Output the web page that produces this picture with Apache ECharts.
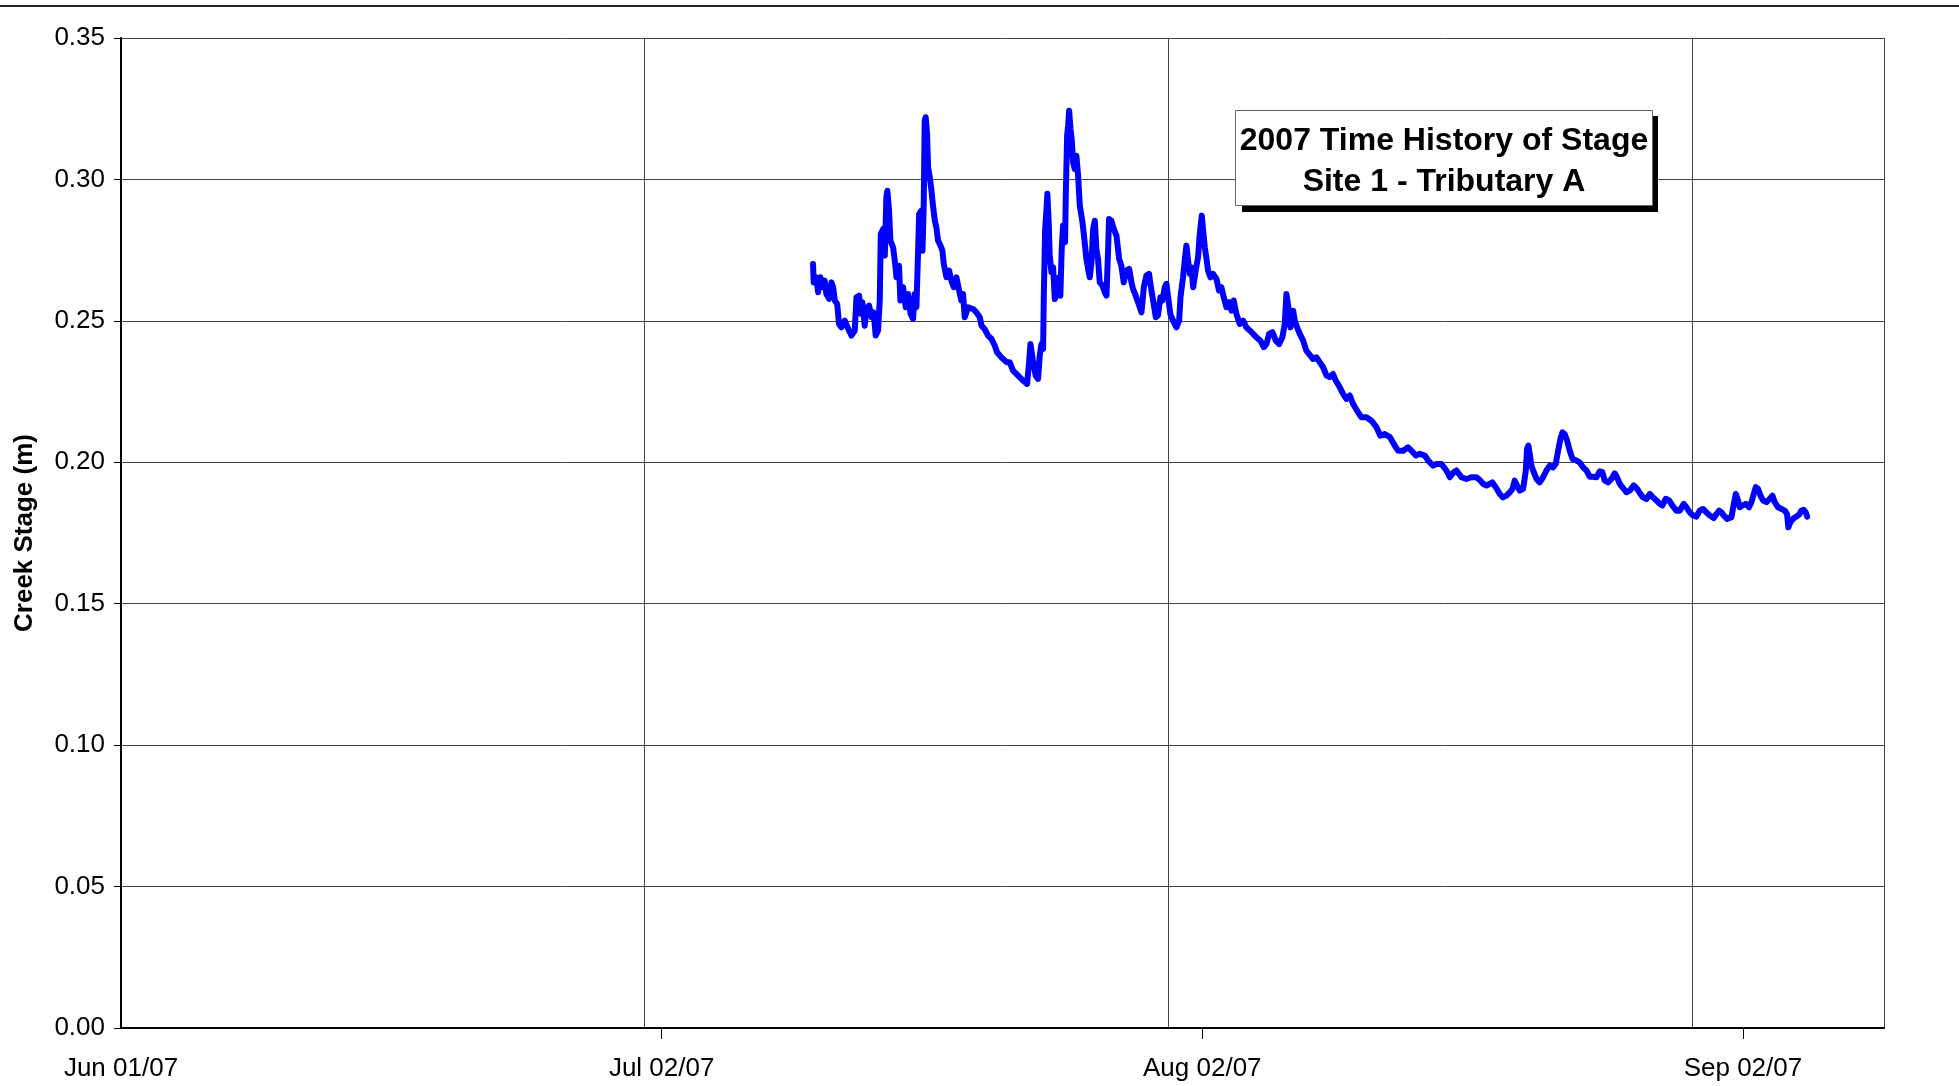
<!DOCTYPE html>
<html>
<head>
<meta charset="utf-8">
<title>2007 Time History of Stage</title>
<script src="https://cdn.jsdelivr.net/npm/echarts@6.0.0/dist/echarts.min.js"></script>
<style>
html, body { margin: 0; padding: 0; background: #fff; }
#chart { width: 1959px; height: 1086px; }
</style>
</head>
<body>
<div id="chart"></div>
<script>
// x values are days after Jun 01/07, y values are creek stage in metres
var days = [
    40.96, 41.00, 41.16, 41.26, 41.40, 41.52, 41.65, 41.75, 41.91, 42.05,
    42.15, 42.25, 42.39, 42.50, 42.64, 42.84, 43.04, 43.23, 43.43, 43.53,
    43.69, 43.79, 43.88, 44.02, 44.12, 44.28, 44.42, 44.55, 44.67, 44.81,
    44.91, 44.97, 45.11, 45.21, 45.30, 45.36, 45.46, 45.54, 45.70, 45.80,
    45.90, 46.05, 46.13, 46.29, 46.45, 46.59, 46.73, 46.88, 46.98, 47.08,
    47.18, 47.24, 47.38, 47.44, 47.51, 47.57, 47.63, 47.71, 47.77, 47.87,
    47.97, 48.07, 48.17, 48.26, 48.36, 48.46, 48.62, 48.70, 48.86, 49.01,
    49.15, 49.29, 49.45, 49.61, 49.74, 49.84, 49.94, 50.14,
    50.43, 50.63, 50.83, 50.93, 51.12, 51.32, 51.52, 51.72, 51.85, 52.11,
    52.41, 52.60, 52.80, 53.10, 53.39, 53.63, 53.75, 53.83, 53.99, 54.14,
    54.28, 54.38, 54.48, 54.58, 54.62, 54.70, 54.78, 54.83, 54.91, 54.97,
    55.07, 55.17, 55.27, 55.41, 55.52, 55.60, 55.68, 55.76, 55.88, 55.92,
    56.00, 56.06, 56.12, 56.20, 56.27, 56.35, 56.45, 56.55, 56.65, 56.75,
    56.91, 57.04, 57.14, 57.24, 57.34, 57.44, 57.54, 57.64, 57.73, 57.83,
    57.93, 58.09, 58.23, 58.33, 58.42, 58.48, 58.62, 58.76, 58.92, 59.08,
    59.21, 59.35, 59.51, 59.67, 59.81, 59.90, 60.06, 60.20,
    60.30, 60.40, 60.54, 60.69, 60.85, 60.99, 61.09, 61.25, 61.38, 61.52,
    61.64, 61.78, 61.88, 61.98, 62.11, 62.27, 62.47, 62.63, 62.71, 62.86,
    62.96, 63.06, 63.16, 63.26, 63.36, 63.46, 63.61, 63.75, 63.85, 63.97,
    64.05, 64.15, 64.25, 64.34, 64.48, 64.64, 64.84, 64.99, 65.13, 65.27,
    65.43, 65.59, 65.73, 65.86, 66.02, 66.22, 66.42, 66.61, 66.81, 67.01,
    67.20, 67.44, 67.64, 67.80, 67.95, 68.15, 68.35, 68.55, 68.74, 68.88,
    68.98, 69.10, 69.22, 69.38, 69.47, 69.61, 69.77, 69.97, 70.16,
    70.56, 70.76, 70.95, 71.15, 71.35, 71.54, 71.74, 71.90, 72.14, 72.33,
    72.53, 72.73, 72.93, 73.22, 73.42, 73.72, 74.01, 74.31, 74.54, 74.80,
    75.10, 75.39, 75.59, 75.89, 76.18, 76.38, 76.64, 76.87, 77.17, 77.37,
    77.66, 77.86, 78.15, 78.45, 78.65, 78.88, 79.04, 79.34, 79.63, 79.93,
    80.23,
    80.42, 80.62, 80.82, 81.02, 81.17, 81.37, 81.61, 81.80, 82.00, 82.20,
    82.36, 82.49, 82.63, 82.79, 82.99, 83.15, 83.22, 83.30, 83.38, 83.48,
    83.62, 83.78, 83.97, 84.17, 84.37, 84.57, 84.76, 84.92, 85.06, 85.20,
    85.32, 85.45, 85.59, 85.75, 85.91, 86.15, 86.34, 86.54, 86.74, 86.93,
    87.13, 87.33, 87.53, 87.68, 87.82, 88.02, 88.22, 88.41, 88.55, 88.71,
    88.91, 89.10, 89.30, 89.54, 89.74, 89.93, 90.09, 90.29,
    90.49, 90.68, 90.88, 91.08, 91.23, 91.43, 91.63, 91.83, 92.06, 92.26,
    92.50, 92.66, 92.85, 93.05, 93.25, 93.44, 93.64, 93.84, 94.04, 94.27,
    94.43, 94.59, 94.73, 94.86, 95.06, 95.32, 95.46, 95.58, 95.71, 95.81,
    95.97, 96.17, 96.36, 96.50, 96.64, 96.76, 96.90, 97.04, 97.19, 97.39,
    97.59, 97.75, 97.88, 98.08, 98.28, 98.48, 98.61, 98.69, 98.81, 98.97,
    99.17, 99.32, 99.46, 99.60, 99.72, 99.80
];
var stage = [
    0.2701, 0.2636, 0.2654, 0.2601, 0.2654, 0.2619, 0.2642, 0.2595, 0.2578, 0.2636,
    0.2619, 0.2572, 0.2560, 0.2489, 0.2477, 0.2501, 0.2472, 0.2448, 0.2466, 0.2583,
    0.2589, 0.2525, 0.2566, 0.2483, 0.2542, 0.2554, 0.2513, 0.2530, 0.2448, 0.2466,
    0.2572, 0.2807, 0.2825, 0.2731, 0.2937, 0.2960, 0.2890, 0.2784, 0.2760, 0.2713,
    0.2654, 0.2695, 0.2572, 0.2619, 0.2548, 0.2595, 0.2525, 0.2507, 0.2595, 0.2548,
    0.2748, 0.2878, 0.2890, 0.2748, 0.2902, 0.3208, 0.3220, 0.3161, 0.3043, 0.3008,
    0.2960, 0.2902, 0.2854, 0.2831, 0.2784, 0.2772, 0.2748, 0.2701, 0.2654, 0.2678,
    0.2642, 0.2619, 0.2654, 0.2607, 0.2572, 0.2595, 0.2513, 0.2548,
    0.2542, 0.2530, 0.2513, 0.2483, 0.2471, 0.2448, 0.2436, 0.2412, 0.2389, 0.2371,
    0.2354, 0.2354, 0.2324, 0.2306, 0.2289, 0.2277, 0.2354, 0.2418, 0.2354, 0.2306,
    0.2295, 0.2377, 0.2418, 0.2401, 0.2589, 0.2825, 0.2896, 0.2949, 0.2848, 0.2731,
    0.2672, 0.2689, 0.2577, 0.2601, 0.2654, 0.2589, 0.2754, 0.2837, 0.2778, 0.2943,
    0.3155, 0.3190, 0.3243, 0.3178, 0.3143, 0.3061, 0.3037, 0.3084, 0.3013, 0.2907,
    0.2848, 0.2778, 0.2719, 0.2684, 0.2654, 0.2707, 0.2825, 0.2854, 0.2754, 0.2719,
    0.2636, 0.2625, 0.2601, 0.2589, 0.2742, 0.2860, 0.2854, 0.2825, 0.2801, 0.2719,
    0.2695, 0.2636, 0.2678, 0.2684, 0.2636, 0.2613, 0.2589, 0.2566,
    0.2560, 0.2530, 0.2619, 0.2660, 0.2666, 0.2607, 0.2572, 0.2513, 0.2519, 0.2583,
    0.2572, 0.2619, 0.2631, 0.2583, 0.2524, 0.2501, 0.2477, 0.2501, 0.2583, 0.2654,
    0.2713, 0.2766, 0.2713, 0.2666, 0.2689, 0.2619, 0.2678, 0.2725, 0.2807, 0.2872,
    0.2819, 0.2760, 0.2719, 0.2678, 0.2654, 0.2666, 0.2648, 0.2607, 0.2619, 0.2583,
    0.2548, 0.2566, 0.2536, 0.2572, 0.2524, 0.2489, 0.2501, 0.2477, 0.2466, 0.2454,
    0.2442, 0.2430, 0.2407, 0.2418, 0.2454, 0.2460, 0.2430, 0.2418, 0.2442, 0.2489,
    0.2595, 0.2548, 0.2477, 0.2536, 0.2501, 0.2477, 0.2454, 0.2430, 0.2395,
    0.2365, 0.2371, 0.2354, 0.2336, 0.2307, 0.2301, 0.2312, 0.2289, 0.2265, 0.2242,
    0.2224, 0.2236, 0.2206, 0.2177, 0.2159, 0.2159, 0.2147, 0.2124, 0.2094, 0.2100,
    0.2089, 0.2059, 0.2041, 0.2041, 0.2053, 0.2041, 0.2024, 0.2030, 0.2024, 0.2006,
    0.1988, 0.1994, 0.1994, 0.1971, 0.1947, 0.1965, 0.1971, 0.1947, 0.1941, 0.1947,
    0.1947,
    0.1938, 0.1924, 0.1918, 0.1924, 0.1929, 0.1912, 0.1888, 0.1876, 0.1882, 0.1894,
    0.1906, 0.1935, 0.1918, 0.1900, 0.1906, 0.1971, 0.2047, 0.2059, 0.2030, 0.1988,
    0.1965, 0.1941, 0.1929, 0.1947, 0.1971, 0.1988, 0.1982, 0.1994, 0.2041, 0.2083,
    0.2106, 0.2100, 0.2077, 0.2041, 0.2012, 0.2006, 0.2000, 0.1982, 0.1971, 0.1949,
    0.1949, 0.1947, 0.1968, 0.1965, 0.1935, 0.1929, 0.1941, 0.1961, 0.1947, 0.1924,
    0.1909, 0.1894, 0.1900, 0.1918, 0.1906, 0.1888, 0.1876, 0.1870,
    0.1888, 0.1876, 0.1865, 0.1853, 0.1847, 0.1871, 0.1865, 0.1847, 0.1829, 0.1829,
    0.1853, 0.1841, 0.1823, 0.1812, 0.1808, 0.1829, 0.1835, 0.1823, 0.1812, 0.1803,
    0.1817, 0.1829, 0.1823, 0.1812, 0.1800, 0.1806, 0.1853, 0.1888, 0.1865, 0.1841,
    0.1847, 0.1853, 0.1841, 0.1859, 0.1888, 0.1912, 0.1906, 0.1882, 0.1865, 0.1859,
    0.1871, 0.1882, 0.1859, 0.1841, 0.1835, 0.1829, 0.1817, 0.1770, 0.1788, 0.1800,
    0.1808, 0.1815, 0.1829, 0.1832, 0.1823, 0.1808
];

var xTickDays = [0, 32, 64, 96];
var xTickLabels = ['Jun 01/07', 'Jul 02/07', 'Aug 02/07', 'Sep 02/07'];
var yTickLabels = ['0.00', '0.05', '0.10', '0.15', '0.20', '0.25', '0.30', '0.35'];

var FONT = '"Liberation Sans", Arial, Helvetica, sans-serif';
var xMax = 104.35;

var dom = document.getElementById('chart');
var myChart = echarts.init(dom, null, { renderer: 'canvas' });

var seriesData = days.map(function (d, i) {
    return [d, stage[i]];
});

var option = {
    backgroundColor: '#ffffff',
    animation: false,
    textStyle: { fontFamily: FONT },
    title: {
        text: '2007 Time History of Stage\nSite 1 - Tributary A',
        left: 1439,
        top: 110,
        textAlign: 'center',
        padding: [11, 5, 3, 5],
        backgroundColor: '#ffffff',
        borderColor: '#666666',
        borderWidth: 1,
        z: 6,
        textStyle: {
            fontFamily: FONT,
            fontSize: 32,
            fontWeight: 'bold',
            color: '#000',
            lineHeight: 41
        }
    },
    grid: {
        left: 121,
        right: 75,
        top: 38,
        bottom: 58
    },
    xAxis: [{
            // vertical gridlines, every 31 days
            type: 'value',
            position: 'bottom',
            min: 0,
            max: xMax,
            interval: 31,
            axisLine: {
                show: true,
                onZero: false,
                lineStyle: { color: '#000', width: 2 }
            },
            axisTick: { show: false },
            axisLabel: { show: false },
            splitLine: {
                show: true,
                lineStyle: { color: '#444', width: 1 }
            }
        },
        {
            // date labels and ticks
            type: 'value',
            position: 'bottom',
            min: 0,
            max: xMax,
            interval: 32,
            axisLine: { show: false },
            axisTick: {
                show: true,
                length: 11,
                customValues: xTickDays.slice(1),
                lineStyle: { color: '#000', width: 1 }
            },
            axisLabel: {
                show: true,
                customValues: xTickDays,
                margin: 28,
                fontSize: 26,
                color: '#000',
                fontFamily: FONT,
                formatter: function (v) {
                    var i = xTickDays.indexOf(Math.round(v));
                    return i < 0 ? '' : xTickLabels[i];
                }
            },
            splitLine: { show: false }
        }
    ],
    yAxis: {
        type: 'value',
        min: 0,
        max: 0.35,
        interval: 0.05,
        name: 'Creek Stage (m)',
        nameLocation: 'middle',
        nameRotate: 90,
        nameGap: 83,
        nameTextStyle: {
            fontFamily: FONT,
            fontSize: 26,
            fontWeight: 'bold',
            color: '#000'
        },
        axisLine: {
            show: true,
            onZero: false,
            lineStyle: { color: '#000', width: 2 }
        },
        axisTick: {
            show: true,
            length: 7,
            lineStyle: { color: '#000', width: 1 }
        },
        axisLabel: {
            margin: 16,
            fontSize: 26,
            color: '#000',
            fontFamily: FONT,
            formatter: function (v) {
                return yTickLabels[Math.round(v / 0.05)];
            }
        },
        splitLine: {
            show: true,
            lineStyle: { color: '#444', width: 1 }
        }
    },
    graphic: [{
            type: 'line',
            shape: { x1: 0, y1: 6, x2: 1959, y2: 6 },
            style: { stroke: '#222', lineWidth: 2 },
            silent: true
        },
        {
            // drop shadow behind the title box
            type: 'rect',
            z: 5,
            shape: { x: 1242, y: 116, width: 416, height: 96 },
            style: { fill: '#000' },
            silent: true
        }
    ],
    series: [{
        name: 'Stage',
        type: 'line',
        xAxisIndex: 0,
        yAxisIndex: 0,
        showSymbol: false,
        symbol: 'none',
        data: seriesData,
        lineStyle: {
            color: '#0000ff',
            width: 6,
            cap: 'round',
            join: 'round'
        },
        itemStyle: { color: '#0000ff' }
    }]
};

if (option && typeof option === "object") {
    myChart.setOption(option, true);
}
</script>
</body>
</html>
